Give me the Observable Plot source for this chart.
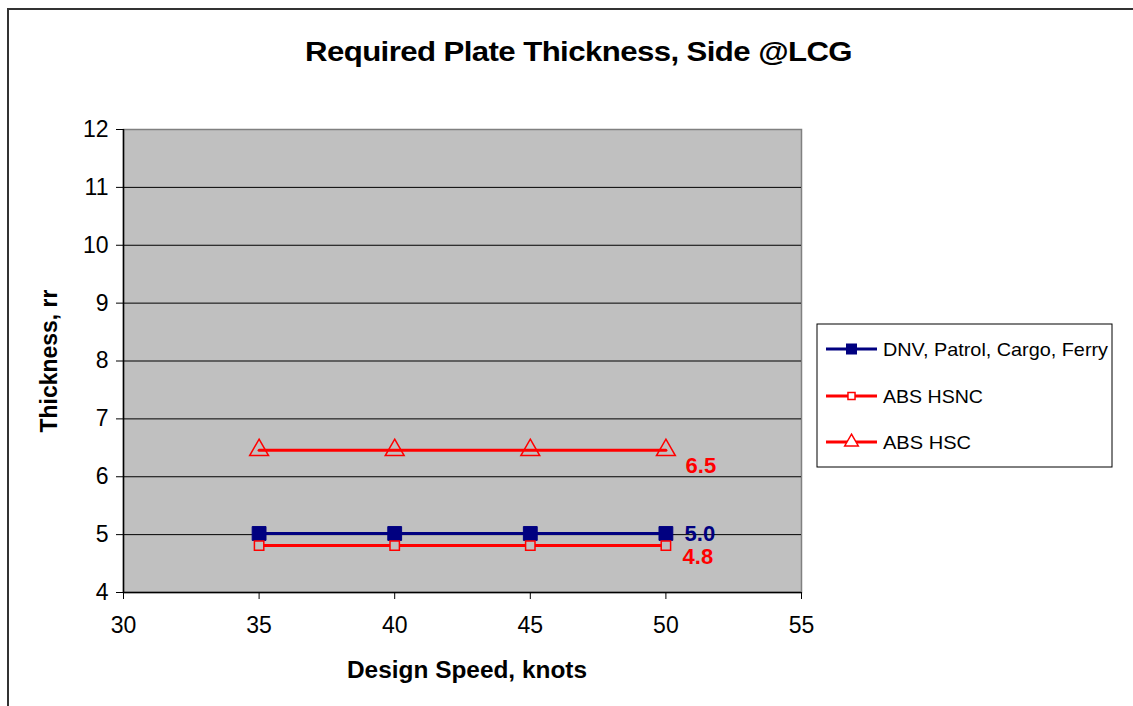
<!DOCTYPE html>
<html>
<head>
<meta charset="utf-8">
<script src="https://cdn.jsdelivr.net/npm/d3@7"></script>
<script src="https://cdn.jsdelivr.net/npm/@observablehq/plot@0.6"></script>
<style>
  html, body { margin: 0; padding: 0; background: #fff; overflow: hidden; }
  body { width: 1133px; height: 706px; position: relative; font-family: "Liberation Sans", Arial, sans-serif; }
  #border { position: absolute; left: 7px; top: 8px; width: 1200px; height: 800px; border-left: 2px solid #333; border-top: 2px solid #333; }
  #title { position: absolute; left: 0; top: 0; width: 1133px; height: 96px; }
  #title span { position: absolute; left: 0; top: 37px; white-space: nowrap; font-weight: bold; font-size: 27px; line-height: 1.15; letter-spacing: -0.5px; color: #000; transform-origin: 0 0; }
  #chart { position: absolute; left: 0; top: 96px; }
</style>
</head>
<body>
<div id="border"></div>
<div id="title"><span id="titleText"></span></div>
<div id="chart"></div>
<script>
// ---- data ----
const speeds = [35, 40, 45, 50];
const dnvValues = [5.02, 5.02, 5.02, 5.02];
const absHsncValues = [4.81, 4.81, 4.81, 4.81];
const absHscValues = [6.46, 6.46, 6.46, 6.46];
const seriesNames = ["DNV, Patrol, Cargo, Ferry", "ABS HSNC", "ABS HSC"];
const seriesColors = ["#000080", "#FF0000", "#FF0000"];
const seriesSymbols = ["square", "square", "triangle"];
const seriesFilled = [true, false, false];
const xTicks = [30, 35, 40, 45, 50, 55];
const yTicks = [4, 5, 6, 7, 8, 9, 10, 11, 12];
const titleText = "Required Plate Thickness, Side @LCG";
const xLabel = "Design Speed, knots";
const yLabel = "Thickness, rr";

// ---- layout (pixels, not data) ----
const titleBox = {left: 305, width: 547};
const legendTextWidths = [225, 100, 88];

const seriesValues = [dnvValues, absHsncValues, absHscValues];
const rows = [];
seriesNames.forEach((name, i) => {
  speeds.forEach((s, j) => rows.push({series: name, idx: i, speed: s, value: seriesValues[i][j]}));
});
const lastRows = rows.filter(d => d.speed === speeds[speeds.length - 1]);
const fmt = d3.format(".1f");
const labelDx = [34, 32, 35];
const labelDy = [0, 11, 16];

// title (HTML, above the svg), fitted to the reference width
const tEl = document.getElementById("titleText");
tEl.textContent = titleText;
const natural = tEl.getBoundingClientRect().width;
tEl.style.left = titleBox.left + "px";
tEl.style.transform = `scaleX(${titleBox.width / natural})`;

const W = 1133, H = 610;
const mL = 123, mR = 332, mT = 33, mB = 114;

const chart = Plot.plot({
  width: W, height: H,
  marginLeft: mL, marginRight: mR, marginTop: mT, marginBottom: mB,
  style: {fontFamily: "Liberation Sans, Arial, sans-serif", background: "transparent", overflow: "visible"},
  x: {domain: [30, 55], ticks: xTicks},
  y: {domain: [4, 12], ticks: yTicks},
  marks: [
    Plot.frame({fill: "#C0C0C0", stroke: "#808080", strokeWidth: 1.5}),
    Plot.ruleY(yTicks.filter(t => t > 4 && t < 12), {stroke: "#000", strokeWidth: 1}),
    Plot.ruleX([30], {stroke: "#000", strokeWidth: 1.5}),
    Plot.ruleY([4], {stroke: "#000", strokeWidth: 1.5}),
    Plot.axisY({ticks: yTicks, tickSize: 7, tickPadding: 8, fontSize: 23, label: null, tickFormat: d => d, stroke: "#000", color: "#000"}),
    Plot.axisX({ticks: xTicks, tickSize: 7, tickPadding: 17, fontSize: 23, label: null, tickFormat: d => d, stroke: "#000", color: "#000"}),
    Plot.line(rows, {x: "speed", y: "value", z: "series", stroke: d => seriesColors[d.idx], strokeWidth: 3}),
    Plot.dot(rows.filter(d => seriesFilled[d.idx]), {x: "speed", y: "value", symbol: "square", r: 7.8, fill: "#000080", stroke: "#000080", strokeWidth: 1}),
    Plot.dot(rows.filter(d => d.idx === 1), {x: "speed", y: "value", symbol: "square", r: 5.3, fill: "#C0C0C0", stroke: "#FF0000", strokeWidth: 1.5}),
    Plot.dot(rows.filter(d => d.idx === 2), {x: "speed", y: "value", symbol: "triangle", r: 7, fill: "none", stroke: "#FF0000", strokeWidth: 1.5}),
    ...lastRows.map(d => Plot.text([d], {x: "speed", y: "value", text: r => fmt(r.value), fill: seriesColors[d.idx], fontWeight: "bold", fontSize: 22, dx: labelDx[d.idx], dy: labelDy[d.idx]}))
  ]
});
document.getElementById("chart").appendChild(chart);

const svg = d3.select(chart);
// axis titles
svg.append("text").attr("x", 467).attr("y", 678 - 96).attr("text-anchor", "middle")
  .attr("font-weight", "bold").attr("font-size", 23)
  .attr("textLength", 240).attr("lengthAdjust", "spacingAndGlyphs")
  .attr("fill", "#000").text(xLabel);
svg.append("text").attr("transform", `translate(57, ${361 - 96}) rotate(-90)`).attr("text-anchor", "middle")
  .attr("font-weight", "bold").attr("font-size", 23)
  .attr("textLength", 143).attr("lengthAdjust", "spacingAndGlyphs")
  .attr("fill", "#000").text(yLabel);

// legend
const lg = svg.append("g").attr("transform", `translate(817, ${324 - 96})`);
lg.append("rect").attr("width", 295).attr("height", 143).attr("fill", "#fff").attr("stroke", "#000").attr("stroke-width", 1);
const rowY = [25, 72, 118];
seriesNames.forEach((name, i) => {
  const g = lg.append("g").attr("transform", `translate(0, ${rowY[i]})`);
  g.append("line").attr("x1", 9).attr("x2", 60).attr("y1", 0).attr("y2", 0).attr("stroke", seriesColors[i]).attr("stroke-width", 3);
  const sym = d3.symbol().type(seriesSymbols[i] === "square" ? d3.symbolSquare : d3.symbolTriangle)
    .size(i === 0 ? 90 : i === 1 ? 50 : 80);
  g.append("path").attr("d", sym()).attr("transform", "translate(34.5,0)")
    .attr("fill", seriesFilled[i] ? seriesColors[i] : "#fff").attr("stroke", seriesColors[i]).attr("stroke-width", 1.5);
  g.append("text").attr("x", 66).attr("y", 6.5).attr("text-anchor", "start")
    .attr("font-size", 18.5).attr("textLength", legendTextWidths[i]).attr("lengthAdjust", "spacingAndGlyphs")
    .attr("fill", "#000").text(name);
});
</script>
</body>
</html>
